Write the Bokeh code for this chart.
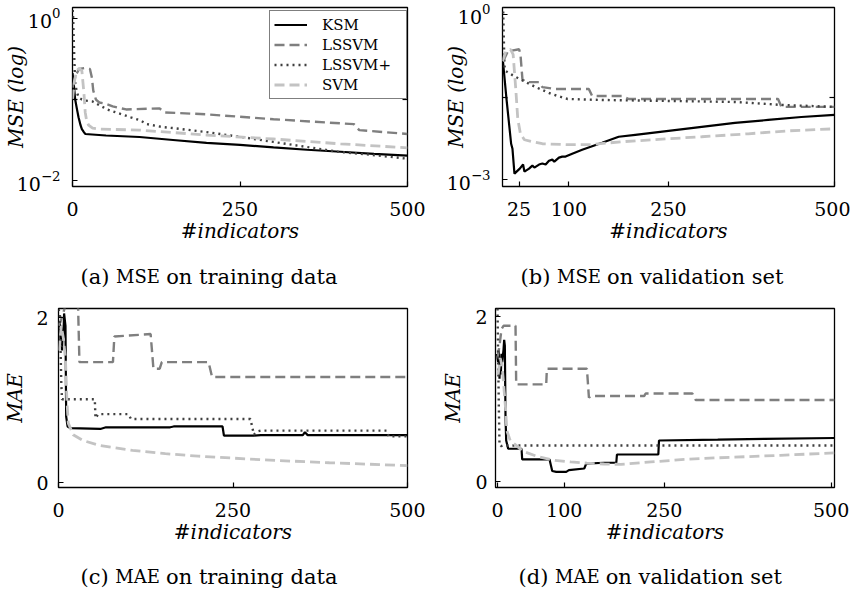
from bokeh.plotting import figure
from bokeh.layouts import column, row
from bokeh.models import Range1d, FixedTicker, Legend, LegendItem, LogAxis
from bokeh.embed import file_html
from bokeh.resources import INLINE
from bokeh.core.properties import value

FONT = "DejaVu Serif"
SERIES = ["KSM", "LSSVM", "LSSVM+", "SVM"]

# ---------------- (a) MSE on training data (log scale) ----------------
A_KSM_X = [0, 2, 4, 7, 9, 12, 14, 17, 19, 50, 100, 150, 200, 250, 300, 350, 400, 450, 500]
A_KSM_Y = [0.212, 0.152, 0.100, 0.0736, 0.0605, 0.0484, 0.0433, 0.0398, 0.0377, 0.0361,
           0.0346, 0.0318, 0.0293, 0.0277, 0.0258, 0.0241, 0.0228, 0.0215, 0.0204]
A_LSSVM_X = [0, 5, 10, 18, 26, 29, 31, 35, 40, 48, 60, 80, 130, 137, 200, 300, 420, 428, 500]
A_LSSVM_Y = [0.140, 0.201, 0.238, 0.244, 0.238, 0.185, 0.129, 0.100, 0.0920, 0.0895,
             0.0823, 0.0756, 0.0778, 0.0695, 0.0658, 0.0573, 0.0498, 0.0421, 0.0377]
A_LSSVMP_X = [0, 1, 2, 3, 4, 6, 9, 14, 19, 30, 38, 52, 60, 87, 101, 111, 135, 151, 200,
              252, 300, 348, 396, 443, 500]
A_LSSVMP_Y = [1.5, 0.986, 0.491, 0.265, 0.161, 0.129, 0.106, 0.100, 0.0972, 0.0946, 0.087,
              0.0756, 0.0716, 0.0605, 0.0556, 0.0498, 0.0458, 0.0445, 0.0398, 0.0346,
              0.0301, 0.0262, 0.0228, 0.0210, 0.0187]
A_SVM_X = [0, 3, 6, 10, 14, 17, 19, 21, 24, 30, 40, 100, 200, 300, 400, 500]
A_SVM_Y = [0.100, 0.170, 0.225, 0.244, 0.225, 0.122, 0.0695, 0.0556, 0.0484, 0.0445,
           0.0433, 0.0421, 0.0366, 0.0327, 0.0285, 0.0255]

# ---------------- (b) MSE on validation set (log scale) ----------------
B_KSM_X = [0, 6, 13, 15, 18, 26, 31, 33, 40, 45, 48, 55, 60, 65, 70, 75, 78, 85, 90, 95,
           105, 120, 150, 175, 200, 250, 300, 350, 400, 450, 500]
B_KSM_Y = [0.174, 0.0291, 0.00447, 0.00363, 0.00128, 0.00158, 0.00187, 0.00139, 0.00158,
           0.00179, 0.00165, 0.00187, 0.00195, 0.00187, 0.00220, 0.00230, 0.00211, 0.00250,
           0.00261, 0.00261, 0.00295, 0.00348, 0.00466, 0.00599, 0.00650, 0.00767, 0.00907,
           0.0107, 0.0121, 0.0137, 0.0150]
B_LSSVM_X = [1, 8, 25, 27, 30, 35, 55, 60, 80, 130, 135, 180, 190, 415, 420, 500]
B_LSSVM_Y = [0.1415, 0.214, 0.233, 0.189, 0.0669, 0.0590, 0.0590, 0.0479, 0.0441, 0.0441,
             0.0330, 0.0330, 0.0291, 0.0291, 0.0209, 0.0209]
B_LSSVMP_X = [0, 1, 2, 3, 5, 15, 26, 50, 74, 98, 150, 250, 350, 420, 500]
B_LSSVMP_Y = [1.87, 1.23, 0.353, 0.115, 0.0933, 0.0790, 0.0669, 0.0479, 0.0358, 0.0291,
              0.0279, 0.0268, 0.0257, 0.0227, 0.0209]
B_SVM_X = [0, 5, 12, 16, 20, 23, 27, 33, 45, 60, 100, 130, 180, 250, 300, 370, 430, 500]
B_SVM_Y = [0.1415, 0.214, 0.233, 0.189, 0.0441, 0.01265, 0.00678, 0.00528, 0.00486,
           0.00447, 0.00429, 0.00429, 0.00486, 0.00551, 0.00599, 0.00678, 0.00767, 0.00835]

# ---------------- (c) MAE on training data ----------------
C_KSM_X = [0, 2, 3, 4, 5, 6, 7, 8, 10, 11, 13, 17, 60, 68, 160, 165, 235, 237, 280, 290,
           350, 353, 357, 500]
C_KSM_Y = [1.85, 1.95, 1.7, 1.9, 1.6, 1.85, 1.75, 2.05, 1.9, 0.8, 0.68, 0.66, 0.65, 0.67,
           0.67, 0.68, 0.68, 0.57, 0.57, 0.575, 0.575, 0.61, 0.575, 0.575]
C_LSSVM_X = [0, 5, 10, 28, 30, 78, 80, 132, 136, 145, 148, 215, 220, 500]
C_LSSVM_Y = [1.9, 2.0, 2.15, 2.15, 1.46, 1.46, 1.77, 1.80, 1.38, 1.38, 1.46, 1.46, 1.28, 1.28]
C_LSSVMP_X = [0, 2, 3, 4, 5, 52, 53, 57, 100, 104, 275, 280, 285, 290, 470, 473, 500]
C_LSSVMP_Y = [2.1, 2.05, 1.6, 1.2, 1.01, 1.01, 0.78, 0.83, 0.83, 0.77, 0.77, 0.58, 0.62,
              0.63, 0.63, 0.56, 0.56]
C_SVM_X = [1, 4, 7, 10, 12, 14, 21, 35, 59, 106, 153, 200, 294, 388, 500]
C_SVM_Y = [1.6, 1.9, 1.75, 1.5, 1.0, 0.72, 0.58, 0.51, 0.45, 0.39, 0.35, 0.32, 0.275, 0.24, 0.205]

# ---------------- (d) MAE on validation set ----------------
D_KSM_X = [-1, 1, 2, 3, 4, 5, 6, 7, 9, 10, 11, 12, 13, 16, 36, 37, 78, 80, 82, 88, 103,
           107, 130, 133, 160, 178, 179, 241, 242, 330, 400, 505]
D_KSM_Y = [1.55, 1.45, 1.6, 1.25, 1.5, 1.3, 1.55, 1.45, 1.6, 1.72, 1.65, 0.8, 0.5, 0.4,
           0.4, 0.27, 0.27, 0.2, 0.13, 0.12, 0.12, 0.14, 0.16, 0.22, 0.23, 0.23, 0.33,
           0.33, 0.5, 0.51, 0.52, 0.53]
D_LSSVM_X = [0, 3, 6, 9, 27, 28, 73, 74, 134, 137, 140, 220, 222, 292, 297, 505]
D_LSSVM_Y = [1.5, 1.65, 1.85, 1.89, 1.89, 1.18, 1.18, 1.37, 1.37, 1.02, 1.04, 1.04, 1.07,
             1.07, 0.99, 0.99]
D_LSSVMP_X = [0, 1, 2, 3, 5, 8, 505]
D_LSSVMP_Y = [2.1, 1.5, 0.9, 0.45, 0.43, 0.44, 0.44]
D_SVM_X = [1, 4, 7, 9, 12, 14, 19, 28, 38, 62, 86, 110, 134, 160, 185, 230, 280, 330, 424, 505]
D_SVM_Y = [1.3, 1.5, 1.4, 1.2, 0.9, 0.62, 0.5, 0.44, 0.37, 0.3, 0.26, 0.24, 0.225, 0.215,
           0.21, 0.24, 0.27, 0.29, 0.32, 0.35]

STYLE = {
    "KSM": dict(line_color="#000000", line_width=2.2),
    "LSSVM": dict(line_color="#7f7f7f", line_width=2.4, line_dash="10 5"),
    "LSSVM+": dict(line_color="#404040", line_width=2.4, line_dash="2 4"),
    "SVM": dict(line_color="#c3c3c3", line_width=2.8, line_dash="10 5"),
}


def make_panel(data, xr, yr, log, xticks, yticks, yminor, ylabel, w, h, borders,
               ytick_standoff, ylab_standoff):
    ml, mr, mt, mb = borders
    p = figure(width=w, height=h, x_range=Range1d(*xr), y_range=Range1d(*yr),
               y_axis_type="log" if log else "linear", output_backend="svg",
               toolbar_location=None, title=None, min_border_left=ml, min_border_right=mr,
               min_border_top=mt, min_border_bottom=mb)
    p.grid.visible = False
    p.outline_line_color = "black"
    p.outline_line_width = 1.3
    rends = {}
    for name in SERIES:
        xs, ys = data[name]
        rends[name] = p.line(xs, ys, **STYLE[name])
    xa = p.xaxis[0]
    ya = p.yaxis[0]
    xa.ticker = FixedTicker(ticks=xticks)
    ya.ticker = FixedTicker(ticks=yticks, minor_ticks=yminor)
    for ax in (xa, ya):
        ax.axis_line_color = None
        ax.major_tick_in = 5
        ax.major_tick_out = 0
        ax.minor_tick_in = 5
        ax.minor_tick_out = 0
        ax.major_tick_line_width = 1.2
        ax.minor_tick_line_width = 1.2
        ax.major_label_text_font = FONT
        ax.major_label_text_font_size = "19px"
        ax.major_label_text_color = "black"
        ax.axis_label_text_font = FONT
        ax.axis_label_text_font_style = "italic"
        ax.axis_label_text_font_size = "20px"
        ax.axis_label_text_color = "black"
    xa.axis_label = "#indicators"
    xa.major_label_standoff = 15
    xa.axis_label_standoff = 0
    ya.axis_label = ylabel
    ya.major_label_standoff = ytick_standoff
    ya.axis_label_standoff = ylab_standoff
    if log and yminor:
        # mirrored inner tick on the right frame edge, no labels
        rax = LogAxis(ticker=FixedTicker(ticks=[], minor_ticks=yminor))
        rax.axis_line_color = None
        rax.major_tick_in = 0
        rax.major_tick_out = 0
        rax.minor_tick_in = 5
        rax.minor_tick_out = 0
        rax.minor_tick_line_width = 1.2
        rax.major_label_standoff = 0
        rax.axis_label_standoff = 0
        p.add_layout(rax, "right")
    return p, rends


# approximate DejaVu Serif advance widths (em/1000) used to chain caption pieces
TW = {' ': 318, '(': 390, ')': 390, 'a': 596, 'b': 640, 'c': 560, 'd': 640, 'e': 592,
      'g': 640, 'i': 320, 'l': 320, 'n': 644, 'o': 602, 'r': 478, 's': 513, 't': 402,
      'v': 565, 'A': 722, 'E': 730, 'M': 995, 'S': 685}


def tw(s, size):
    return sum(TW.get(ch, 600) for ch in s) / 1000.0 * size


def make_caption(prefix, abbr, rest, x0, ybase, h, size=21, small=18):
    c = figure(width=425, height=h, x_range=Range1d(0, 425), y_range=Range1d(h, 0),
               output_backend="svg", toolbar_location=None, title=None, min_border=0,
               outline_line_color=None)
    c.axis.visible = False
    c.grid.visible = False
    xa = x0
    xb = xa + tw(prefix + " ", size)
    xc = xb + tw(abbr, small) + tw(" ", size)
    common = dict(text_font=value(FONT), text_baseline="alphabetic", text_align="left",
                  text_color="black")
    c.text(x=[xa], y=[ybase], text=[prefix], text_font_size=f"{size}px", **common)
    c.text(x=[xb], y=[ybase], text=[abbr], text_font_size=f"{small}px", **common)
    c.text(x=[xc], y=[ybase], text=[rest], text_font_size=f"{size}px", **common)
    return c


pa, ra = make_panel({"KSM": (A_KSM_X, A_KSM_Y), "LSSVM": (A_LSSVM_X, A_LSSVM_Y),
                     "LSSVM+": (A_LSSVMP_X, A_LSSVMP_Y), "SVM": (A_SVM_X, A_SVM_Y)},
                    (0, 500), (10 ** -2.07, 10 ** 0.133), True, [0, 250, 500],
                    [1, 0.01], [0.1], "MSE (log)", 425, 250, (62, 18, 3, 64), 12, -14)
pb, _ = make_panel({"KSM": (B_KSM_X, B_KSM_Y), "LSSVM": (B_LSSVM_X, B_LSSVM_Y),
                    "LSSVM+": (B_LSSVMP_X, B_LSSVMP_Y), "SVM": (B_SVM_X, B_SVM_Y)},
                   (0, 500), (10 ** -3.127, 10 ** 0.127), True, [25, 100, 250, 500],
                   [1, 0.001], [10 ** -1.5], "MSE (log)", 425, 250, (77, 16, 7, 62), 12, -24)
pc, _ = make_panel({"KSM": (C_KSM_X, C_KSM_Y), "LSSVM": (C_LSSVM_X, C_LSSVM_Y),
                    "LSSVM+": (C_LSSVMP_X, C_LSSVMP_Y), "SVM": (C_SVM_X, C_SVM_Y)},
                   (0, 500), (-0.06, 2.11), False, [0, 250, 500],
                   [0, 2], [], "MAE", 425, 252, (55, 18, 8, 63), 10, 6)
pd_, _ = make_panel({"KSM": (D_KSM_X, D_KSM_Y), "LSSVM": (D_LSSVM_X, D_LSSVM_Y),
                     "LSSVM+": (D_LSSVMP_X, D_LSSVMP_Y), "SVM": (D_SVM_X, D_SVM_Y)},
                    (-3, 505), (-0.07, 2.1), False, [0, 100, 250, 500],
                    [0, 2], [], "MAE", 425, 252, (70, 16, 10, 62), 8, 7)

legend = Legend(items=[LegendItem(label=n, renderers=[ra[n]]) for n in SERIES],
                location=(197, 87))
legend.border_line_color = "black"
legend.border_line_width = 1.2
legend.background_fill_color = "white"
legend.background_fill_alpha = 1.0
legend.label_text_font = FONT
legend.label_text_font_size = "15px"
legend.label_text_color = "black"
legend.glyph_width = 33
legend.glyph_height = 19
legend.label_height = 19
legend.label_width = 80
legend.label_standoff = 15
legend.spacing = 1
legend.padding = 4
legend.margin = 0
pa.add_layout(legend)

ca = make_caption("(a)", "MSE", "on training data", 80, 26, 48)
cb = make_caption("(b)", "MSE", "on validation set", 95, 26, 48)
cc = make_caption("(c)", "MAE", "on training data", 80, 26, 42)
cd = make_caption("(d)", "MAE", "on validation set", 93, 26, 42)

layout = column(row(pa, pb), row(ca, cb), row(pc, pd_), row(cc, cd))

html = file_html(layout, INLINE)
html = html.replace("<head>", "<head><style>html, body { margin: 0; padding: 0; }</style>", 1)
with open("out.html", "w") as f:
    f.write(html)
